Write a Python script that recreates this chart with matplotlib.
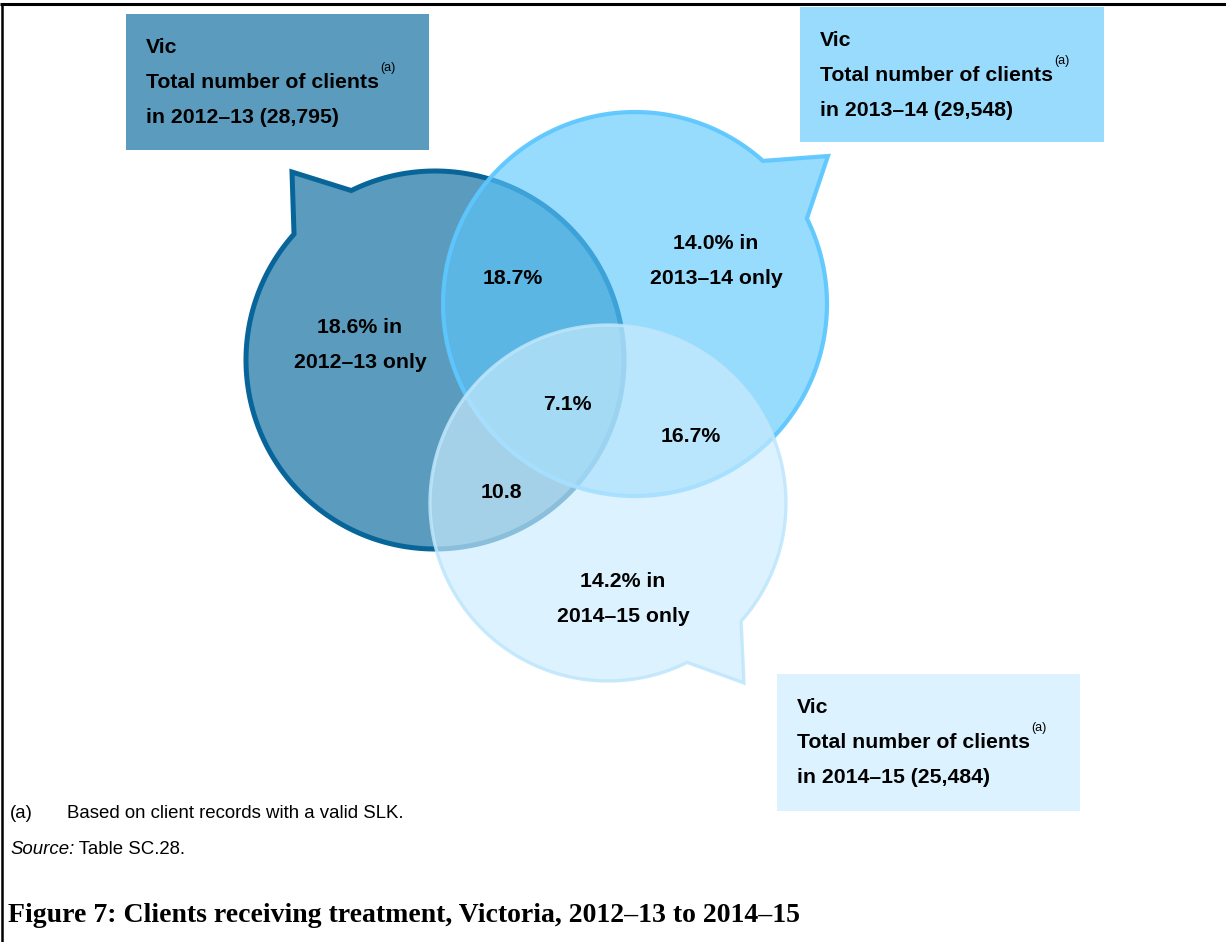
import numpy as np
import matplotlib
matplotlib.use("Agg")
import matplotlib.pyplot as plt
from matplotlib.patches import PathPatch, Rectangle
from matplotlib.path import Path

# --- Data ---
years = ["2012\u201313", "2013\u201314", "2014\u201315"]
totals = [28795, 29548, 25484]
only_pct = [18.6, 14.0, 14.2]          # clients seen in a single year only
pair_labels = ["18.7%", "16.7%", "10.8"]  # 12-13 & 13-14, 13-14 & 14-15, 12-13 & 14-15
all_three = 7.1
footnote = "Based on client records with a valid SLK."
source = "Table SC.28."
title = "Figure 7: Clients receiving treatment, Victoria, 2012\u201313 to 2014\u201315"

# --- Layout (pixel space, y down) ---
W, H = 1226, 942
centers = [(435, 360), (635, 304), (608, 503)]
radii = [189, 192, 178]
tails = [  # base A, tip, base B
    [(295, 235), (292, 172), (352, 192)],
    [(762, 162), (828, 156), (808, 218)],
    [(742, 622), (744, 683), (687, 662)],
]
faces = ["#5b9bbd", (91 / 255, 198 / 255, 252 / 255, 0.63), (203 / 255, 236 / 255, 254 / 255, 0.67)]
edges = ["#08659a", (0.37, 0.78, 1.0, 0.95), (190 / 255, 230 / 255, 252 / 255, 0.85)]
widths = [3.6, 3.0, 2.4]

boxes = [(126, 14, 303, 136), (800, 7, 304, 135), (777, 674, 303, 137)]
box_colors = ["#5b9bbd", "#98dbfc", "#dcf2fe"]

FONT = "Liberation Sans"
FS = 15.3


def bubble_path(center, r, tail):
    cx, cy = center
    a, tip, b = tail
    ta = np.arctan2(a[1] - cy, a[0] - cx)
    tb = np.arctan2(b[1] - cy, b[0] - cx)
    delta = (tb - ta + np.pi) % (2 * np.pi) - np.pi
    # long arc from base B back round to base A, skipping the tail gap
    theta = np.linspace(tb, tb + np.sign(delta) * (2 * np.pi - abs(delta)), 400)
    pts = np.column_stack([cx + r * np.cos(theta), cy + r * np.sin(theta)])
    pts = np.vstack([pts, [tip], pts[:1]])
    codes = [Path.MOVETO] + [Path.LINETO] * (len(pts) - 2) + [Path.CLOSEPOLY]
    return Path(pts, codes)


fig = plt.figure(figsize=(W / 100, H / 100), dpi=100)
ax = fig.add_axes([0, 0, 1, 1])
ax.set_xlim(0, W)
ax.set_ylim(H, 0)
ax.axis("off")

# frame: top and left rule
ax.plot([0, W], [4, 4], color="black", lw=2.2, solid_capstyle="butt")
ax.plot([2, 2], [3, H], color="black", lw=1.8, solid_capstyle="butt")

# label boxes
for (x, y, w, h), col in zip(boxes, box_colors):
    ax.add_patch(Rectangle((x, y), w, h, facecolor=col, edgecolor="none", zorder=1))

# speech-bubble circles
for i in range(3):
    p = bubble_path(centers[i], radii[i], tails[i])
    ax.add_patch(PathPatch(p, facecolor=faces[i], edgecolor=edges[i], lw=widths[i],
                           joinstyle="miter", zorder=2 + i))

# box text
for (x, y, w, h), yr, tot in zip(boxes, years, totals):
    tx = x + 20
    base = y + 39
    ax.text(tx, base, "Vic", fontsize=FS, fontweight="bold", family=FONT,
            va="baseline", zorder=10)
    t = ax.text(tx, base + 35, "Total number of clients", fontsize=FS,
                fontweight="bold", family=FONT, va="baseline", zorder=10)
    ax.annotate("(a)", xy=(1, 1), xycoords=t, xytext=(1, 3.5), textcoords="offset points",
                fontsize=9, family=FONT, ha="left", va="center", zorder=10)
    ax.text(tx, base + 70, f"in {yr} ({tot:,})", fontsize=FS, fontweight="bold",
            family=FONT, va="baseline", zorder=10)

# region labels
lab_kw = dict(fontsize=FS, fontweight="bold", family=FONT, ha="center", va="center",
              zorder=10, linespacing=2.05)
only_pos = [(360, 345), (716, 261), (623, 599)]
for (x, y), pct, yr in zip(only_pos, only_pct, years):
    ax.text(x, y, f"{pct:.1f}% in\n{yr} only", **lab_kw)
pair_pos = [(513, 278), (691, 437), (501, 492)]
for (x, y), lab in zip(pair_pos, pair_labels):
    ax.text(x, y, lab, **lab_kw)
ax.text(567, 405, f"{all_three:.1f}%", **lab_kw)

# notes and title
ax.text(10, 813, "(a)", fontsize=13.4, family=FONT, va="center")
ax.text(67, 813, footnote, fontsize=13.4, family=FONT, va="center")
s = ax.text(10, 850, "Source:", fontsize=13.4, family=FONT, style="italic", va="center")
ax.annotate(" " + source, xy=(1, 0.5), xycoords=s, fontsize=13.4, family=FONT,
            va="center", ha="left")
ax.text(8, 915, title, fontsize=20, fontweight="bold", family="Liberation Serif",
        va="center")

fig.savefig("out.png", dpi=100)
